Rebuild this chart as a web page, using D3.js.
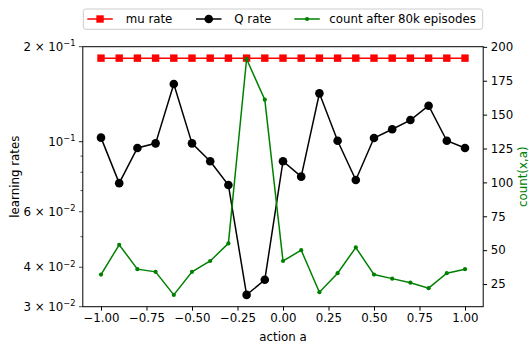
<!DOCTYPE html>
<html>
<head>
<meta charset="utf-8">
<script src="https://cdn.jsdelivr.net/npm/d3@7"></script>
<style>
  html, body { margin: 0; padding: 0; background: #fff; }
  svg { display: block; font-family: "DejaVu Sans", sans-serif; }
</style>
</head>
<body>
<svg id="chart" width="529" height="345"></svg>
<script>
// Actions on the x axis
const actions = [-1.0, -0.9, -0.8, -0.7, -0.6, -0.5, -0.4, -0.3, -0.2, -0.1, 0.0,
                 0.1, 0.2, 0.3, 0.4, 0.5, 0.6, 0.7, 0.8, 0.9, 1.0];
// Learning rate of the policy (constant)
const muRate = [0.184, 0.184, 0.184, 0.184, 0.184, 0.184, 0.184, 0.184, 0.184, 0.184, 0.184,
                0.184, 0.184, 0.184, 0.184, 0.184, 0.184, 0.184, 0.184, 0.184, 0.184];
// Learning rate of the Q estimate per action
const qRate = [0.1030, 0.0739, 0.0955, 0.0988, 0.1523, 0.0988, 0.0867, 0.0729, 0.0327, 0.0365, 0.0867,
               0.0775, 0.1423, 0.1007, 0.0756, 0.1027, 0.1095, 0.1171, 0.1300, 0.1007, 0.0955];
// Visit counts per action after 80k episodes
const counts = [32, 54, 36, 34, 17, 34, 42, 55, 191, 161, 42,
                50, 19, 33, 52, 32, 29, 26, 22, 33, 36];

// Tick labels
const xTicks = [-1.0, -0.75, -0.5, -0.25, 0.0, 0.25, 0.5, 0.75, 1.0];
const yLogLabelled = [
  {v: 0.2, mant: "2", exp: "−1"},
  {v: 0.1, mant: null, exp: "−1"},
  {v: 0.06, mant: "6", exp: "−2"},
  {v: 0.04, mant: "4", exp: "−2"},
  {v: 0.03, mant: "3", exp: "−2"}
];
const yLogMinor = [0.09, 0.08, 0.07, 0.05];
const countTicks = [25, 50, 75, 100, 125, 150, 175, 200];

const legendItems = [
  {label: "mu rate", color: "#ff0000", marker: "square"},
  {label: "Q rate", color: "#000000", marker: "circle"},
  {label: "count after 80k episodes", color: "#008000", marker: "dot"}
];

const svg = d3.select("#chart");
const FS = 11.8;
const L = 82.8, R = 483.2, T = 46.7, B = 306.7;

const x = d3.scaleLinear().domain([-1.1, 1.1]).range([L, R]);
const yL = d3.scaleLog().domain([0.03, 0.2]).range([B, T]);
const cMin = d3.min(counts), cMax = d3.max(counts), cPad = (cMax - cMin) * 0.05;
const yR = d3.scaleLinear().domain([cMin - cPad, cMax + cPad + 0.4]).range([B, T]);

// Series on the left axis
const lineL = d3.line().x((d, i) => x(actions[i])).y(d => yL(d));
const mu = svg.append("g");
mu.append("path").datum(muRate).attr("d", lineL)
  .attr("fill", "none").attr("stroke", "#ff0000").attr("stroke-width", 1.5);
mu.selectAll("rect").data(muRate).join("rect")
  .attr("x", (d, i) => x(actions[i]) - 3.7).attr("y", d => yL(d) - 3.7)
  .attr("width", 7.4).attr("height", 7.4).attr("fill", "#ff0000");

const q = svg.append("g");
q.append("path").datum(qRate).attr("d", lineL)
  .attr("fill", "none").attr("stroke", "#000").attr("stroke-width", 1.5);
q.selectAll("circle").data(qRate).join("circle")
  .attr("cx", (d, i) => x(actions[i])).attr("cy", d => yL(d))
  .attr("r", 4.3).attr("fill", "#000");

// Counts on the right axis
const lineR = d3.line().x((d, i) => x(actions[i])).y(d => yR(d));
const cnt = svg.append("g");
cnt.append("path").datum(counts).attr("d", lineR)
  .attr("fill", "none").attr("stroke", "#008000").attr("stroke-width", 1.5);
cnt.selectAll("circle").data(counts).join("circle")
  .attr("cx", (d, i) => x(actions[i])).attr("cy", d => yR(d))
  .attr("r", 2.1).attr("fill", "#008000");

// Frame
svg.append("rect").attr("x", L).attr("y", T).attr("width", R - L).attr("height", B - T)
  .attr("fill", "none").attr("stroke", "#000").attr("stroke-width", 1);

// Bottom axis
const xAxis = svg.append("g").attr("transform", `translate(0,${B})`)
  .call(d3.axisBottom(x).tickValues(xTicks).tickSize(3.9).tickPadding(3.4)
    .tickFormat(d => d3.format(".2f")(d).replace("-", "−")));
xAxis.select(".domain").remove();
xAxis.selectAll("text").attr("font-size", FS).attr("font-family", "DejaVu Sans").attr("fill", "#000");

// Left log axis: labelled ticks plus minor ticks
const lg = svg.append("g");
lg.selectAll("line.maj").data(yLogLabelled).join("line")
  .attr("x1", L - 3.9).attr("x2", L).attr("y1", d => yL(d.v)).attr("y2", d => yL(d.v))
  .attr("stroke", "#000").attr("stroke-width", d => d.mant ? 0.7 : 0.9);
lg.selectAll("line.min").data(yLogMinor).join("line")
  .attr("x1", L - 2.3).attr("x2", L).attr("y1", d => yL(d)).attr("y2", d => yL(d))
  .attr("stroke", "#000").attr("stroke-width", 0.7);
const lbl = lg.selectAll("text").data(yLogLabelled).join("text")
  .attr("x", L - 7.3).attr("y", d => yL(d.v) + 4.2)
  .attr("text-anchor", "end").attr("font-size", FS).attr("fill", "#000");
lbl.each(function(d) {
  const t = d3.select(this);
  t.append("tspan").text(d.mant ? d.mant + " × 10" : "10");
  t.append("tspan").attr("dy", -4.8).attr("font-size", FS * 0.7).text(d.exp);
});

// Right count axis
const rAxis = svg.append("g").attr("transform", `translate(${R},0)`)
  .call(d3.axisRight(yR).tickValues(countTicks).tickSize(3.9).tickPadding(3.6));
rAxis.select(".domain").remove();
rAxis.selectAll("text").attr("font-size", FS).attr("font-family", "DejaVu Sans").attr("fill", "#000");

// Axis titles
svg.append("text").attr("x", (L + R) / 2).attr("y", 340.5).attr("text-anchor", "middle")
  .attr("font-size", FS).text("action a");
svg.append("text").attr("transform", `translate(19,${(T + B) / 2}) rotate(-90)`)
  .attr("text-anchor", "middle").attr("font-size", FS).text("learning rates");
svg.append("text").attr("transform", `translate(527,${(T + B) / 2}) rotate(-90)`)
  .attr("text-anchor", "middle").attr("font-size", FS).attr("fill", "#008000").text("count(x,a)");

// Legend
const lgd = svg.append("g");
lgd.append("rect").attr("x", 83.3).attr("y", 9).attr("width", 399.4).attr("height", 20.3)
  .attr("rx", 2.5).attr("fill", "#fff").attr("fill-opacity", 0.8)
  .attr("stroke", "#cccccc").attr("stroke-width", 1);
const handleX = [87.3, 196, 294.3];
const textX = [125.7, 234.3, 329.3];
const ly = 19;
legendItems.forEach((it, i) => {
  const g = lgd.append("g");
  g.append("line").attr("x1", handleX[i]).attr("x2", handleX[i] + 25.5)
    .attr("y1", ly).attr("y2", ly).attr("stroke", it.color).attr("stroke-width", 1.5);
  const cx = handleX[i] + 12.75;
  if (it.marker === "square") {
    g.append("rect").attr("x", cx - 3.7).attr("y", ly - 3.7).attr("width", 7.4).attr("height", 7.4).attr("fill", it.color);
  } else {
    g.append("circle").attr("cx", cx).attr("cy", ly).attr("r", it.marker === "circle" ? 4.3 : 2.1).attr("fill", it.color);
  }
  g.append("text").attr("x", textX[i]).attr("y", ly + 4.2).attr("font-size", FS).text(it.label);
});
</script>
</body>
</html>
